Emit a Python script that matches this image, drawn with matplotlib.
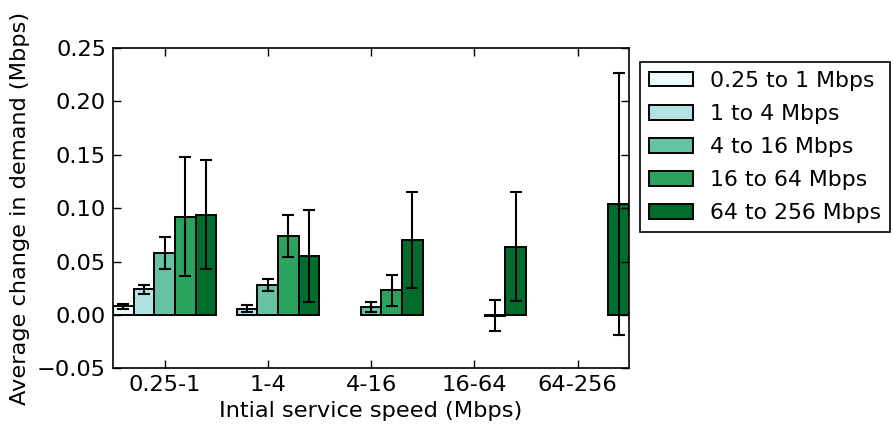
import numpy as np
import matplotlib
matplotlib.use("Agg")
import matplotlib.pyplot as plt

# initial speed tiers (x groups) and the new-speed series inside each group
groups = ["0.25-1", "1-4", "4-16", "16-64", "64-256"]
series = ["0.25 to 1 Mbps", "1 to 4 Mbps", "4 to 16 Mbps", "16 to 64 Mbps", "64 to 256 Mbps"]
colors = ["#edf8fb", "#b2e2e2", "#66c2a4", "#2ca25f", "#006d2c"]

nan = np.nan
# mean change in demand, one row per series, one column per group
means = np.array([
    [0.008, nan, nan, nan, nan],
    [0.024, 0.006, nan, nan, nan],
    [0.058, 0.028, 0.007, nan, nan],
    [0.092, 0.074, 0.023, -0.001, nan],
    [0.094, 0.055, 0.0705, 0.064, 0.104],
])
errors = np.array([
    [0.0025, nan, nan, nan, nan],
    [0.004, 0.003, nan, nan, nan],
    [0.015, 0.0055, 0.0047, nan, nan],
    [0.056, 0.020, 0.0147, 0.0145, nan],
    [0.051, 0.043, 0.045, 0.051, 0.123],
])

plt.rcParams["font.family"] = "DejaVu Sans"
plt.rcParams["font.size"] = 16.2

fig = plt.figure(figsize=(8.93, 4.34), dpi=100)
ax = fig.add_axes([0.1265, 0.1514, 0.578, 0.738])

width = 0.2
x = np.arange(len(groups))
for j, name in enumerate(series):
    ok = ~np.isnan(means[j])
    pos = x[ok] + j * width
    ax.bar(pos, means[j][ok], width, align="edge", color=colors[j],
           edgecolor="black", linewidth=1.4, label=name)
    ax.errorbar(pos + width / 2, means[j][ok], yerr=errors[j][ok], fmt="none",
                ecolor="black", elinewidth=1.5, capsize=4, capthick=1.5)

ax.set_xlim(0, 5)
ax.set_ylim(-0.05, 0.25)
ax.set_xticks(x + 0.5)
ax.set_xticklabels(groups)
ax.set_yticks(np.arange(-0.05, 0.26, 0.05))
ax.tick_params(direction="in", top=True, right=True, length=6, width=1, pad=5)
for s in ax.spines.values():
    s.set_linewidth(1.2)

ax.set_xlabel("Intial service speed (Mbps)", labelpad=4)
ax.set_ylabel("Average change in demand (Mbps)", labelpad=5)

leg = ax.legend(loc="upper left", bbox_to_anchor=(1.022, 0.955), borderaxespad=0,
                fontsize=15.8, fancybox=False, framealpha=1, edgecolor="black",
                handletextpad=0.8, labelspacing=0.6, borderpad=0.38,
                handlelength=2.0, handleheight=0.65)
leg.get_frame().set_linewidth(1.2)

fig.savefig("out.png", dpi=100)
